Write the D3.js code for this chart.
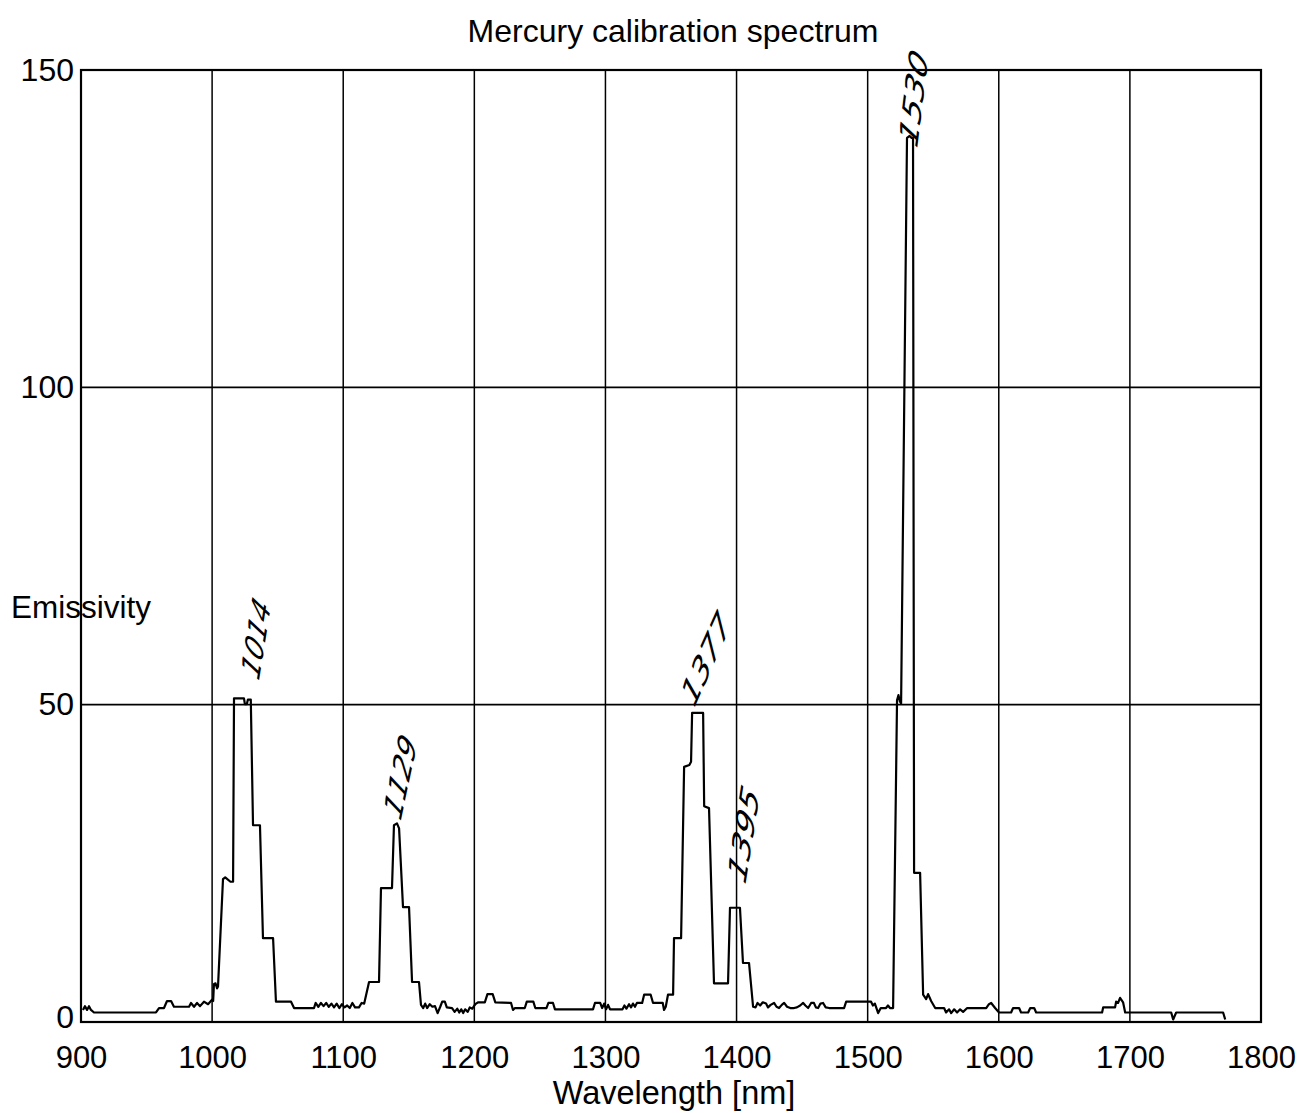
<!DOCTYPE html>
<html>
<head>
<meta charset="utf-8">
<script src="https://cdn.jsdelivr.net/npm/d3@7"></script>
<style>
  body { margin: 0; background: #fff; }
  svg { display: block; }
</style>
</head>
<body>
<svg id="chart" width="1303" height="1113"></svg>
<script>
// Mercury lamp spectrum, wavelength in nm and emissivity (relative units)
const wavelength = [
  901.5, 903, 904.6, 906.1, 907.6, 909.9, 957.2, 959.5, 963.3, 965.6, 968.7, 970.9,
  982.4, 983.9, 986.2, 988.5, 990.8, 993.8, 996.9, 999.9, 1000.8, 1001.4, 1002.6, 1003.8,
  1004.5, 1008.3, 1010, 1014, 1016, 1016.7, 1024.3, 1025, 1026.5, 1027.3, 1029.5, 1031.2,
  1036.5, 1038.8, 1046.5, 1048.7, 1060.2, 1062.5, 1077.7, 1079, 1081, 1083, 1085, 1087,
  1089, 1091, 1093, 1095, 1097, 1099, 1101, 1103, 1105, 1107, 1109, 1112, 1114, 1116,
  1119.7, 1127.3, 1128.8, 1137.2, 1138.7, 1141, 1142.6, 1145.6, 1150.2, 1152.5, 1157.8, 1159.3,
  1161, 1162.5, 1164, 1166, 1168, 1170, 1172, 1174, 1175.5, 1177.5, 1179, 1183,
  1185, 1187, 1188.5, 1190, 1191.5, 1193, 1195, 1196.5, 1198.5, 1200, 1201.3, 1203,
  1208, 1210, 1214, 1216, 1228, 1229.5, 1231, 1238.5, 1240, 1245, 1246.5, 1255,
  1256.5, 1260, 1261.5, 1290.5, 1292, 1296, 1297.5, 1299, 1300.5, 1302, 1303.5, 1313,
  1314.5, 1316, 1318, 1319.5, 1321, 1322.5, 1324, 1328, 1329.5, 1334.5, 1336.3, 1343.7,
  1344.7, 1346, 1347.7, 1351.6, 1352.3, 1357.7, 1360, 1364, 1365.3, 1366.1, 1374.5, 1375.3,
  1379, 1382.8, 1393.5, 1395, 1402.6, 1404.9, 1409.5, 1412.6, 1414.5, 1416, 1418, 1420,
  1422.5, 1424, 1426, 1428.6, 1430.5, 1432.4, 1434.5, 1436.3, 1438.5, 1441, 1443.9, 1446,
  1448.5, 1450.8, 1452.5, 1454.6, 1456.9, 1459, 1460.5, 1462.2, 1464, 1466, 1468, 1470.6,
  1482, 1483.6, 1502.6, 1504, 1505.5, 1508, 1510, 1514, 1515.5, 1517, 1519.4, 1522.4,
  1523.5, 1524.6, 1525.5, 1530, 1532, 1533.5, 1534.6, 1535.4, 1540, 1542.3, 1544.6, 1546.1,
  1548.4, 1551.5, 1558.3, 1559.8, 1562.1, 1563.7, 1566, 1568.2, 1570.5, 1572.8, 1575.9, 1590.4,
  1592.5, 1594.2, 1597.2, 1600.2, 1609.4, 1610.9, 1615.5, 1617, 1622.4, 1624, 1627, 1628.5,
  1678.8, 1679.6, 1688.7, 1689.5, 1691, 1692.5, 1694.8, 1696.4, 1731.5, 1733, 1735.3, 1771.1,
  1772.7
];
const emissivity = [
  1.9, 2.5, 1.9, 2.5, 1.9, 1.5, 1.5, 2.2, 2.2, 3.3, 3.3, 2.4,
  2.4, 3.0, 2.4, 3.0, 2.5, 3.2, 2.8, 3.5, 3.3, 6.0, 6.1, 5.3,
  5.6, 22.5, 22.8, 22.1, 22.1, 51.0, 51.0, 50.1, 50.1, 50.8, 50.8, 31.0,
  31.0, 13.2, 13.2, 3.2, 3.2, 2.2, 2.2, 3.0, 2.4, 3.0, 2.5, 3.0,
  2.4, 2.9, 2.3, 2.9, 2.2, 2.8, 2.3, 2.6, 2.2, 3.0, 2.3, 2.3, 3.0, 2.9,
  6.3, 6.3, 21.1, 21.1, 31.0, 31.3, 30.5, 18.1, 18.1, 6.3, 6.3, 2.7,
  2.2, 2.9, 2.2, 2.8, 2.4, 2.5, 1.4, 2.4, 3.2, 3.2, 2.3, 2.2,
  1.6, 2.1, 1.5, 2.0, 1.4, 2.0, 1.6, 2.3, 2.1, 2.6, 2.9, 3.1,
  3.1, 4.4, 4.4, 3.1, 3.0, 1.9, 2.2, 2.2, 3.2, 3.2, 2.2, 2.2,
  3.0, 3.0, 2.0, 2.0, 3.0, 3.0, 2.2, 2.9, 2.0, 2.7, 2.0, 2.0,
  2.6, 2.1, 2.8, 2.3, 2.9, 2.4, 3.0, 3.0, 4.3, 4.3, 3.0, 3.0,
  1.9, 2.4, 4.3, 4.3, 13.2, 13.2, 40.2, 40.5, 41.0, 48.7, 48.7, 34.0,
  33.7, 6.1, 6.1, 18.0, 18.0, 9.3, 9.3, 2.4, 2.3, 3.0, 2.6, 3.1,
  2.9, 2.3, 2.7, 3.0, 2.4, 2.2, 2.7, 3.0, 2.4, 2.2, 2.2, 2.3,
  2.6, 3.0, 2.6, 2.2, 3.0, 3.0, 2.3, 2.2, 2.9, 3.0, 2.3, 2.2,
  2.2, 3.2, 3.2, 2.6, 2.9, 1.4, 2.2, 2.2, 2.6, 2.2, 2.2, 50.7,
  51.5, 50.5, 50.2, 139.3, 139.6, 139.3, 139.3, 23.5, 23.5, 4.3, 3.6, 4.4,
  3.3, 2.2, 2.2, 1.5, 2.0, 1.4, 2.0, 1.5, 2.0, 1.6, 2.2, 2.2,
  2.8, 3.0, 2.2, 1.5, 1.5, 2.2, 2.2, 1.5, 1.5, 2.2, 2.2, 1.5,
  1.5, 2.3, 2.3, 3.2, 3.0, 3.8, 3.1, 1.5, 1.5, 0.4, 1.5, 1.5,
  0.4
];

const xTicks = [900, 1000, 1100, 1200, 1300, 1400, 1500, 1600, 1700, 1800];
const yTicks = [0, 50, 100, 150];
const gridValues = [50, 100];

// Hand-written line identifications next to the peaks
const noteTexts = ["1014", "1129", "1377", "1395", "1530"];
const noteWavelengths = [1014, 1129, 1377, 1395, 1530];

const titleText = "Mercury calibration spectrum";
const xLabel = "Wavelength [nm]";
const yLabel = "Emissivity";

// ---- layout ----
const plot = { left: 81, right: 1261, top: 70, bottom: 1022 };
const FONT = "'Liberation Sans', Arial, sans-serif";

const svg = d3.select("#chart");
svg.append("rect").attr("width", 1303).attr("height", 1113).attr("fill", "#fff");

const x = d3.scaleLinear().domain([900, 1800]).range([plot.left, plot.right]);
const y = d3.scaleLinear().domain([0, 150]).range([plot.bottom, plot.top]);

// vertical grid lines every 100 nm
svg.append("g")
  .selectAll("line")
  .data(xTicks.slice(1, -1))
  .join("line")
  .attr("x1", d => x(d)).attr("x2", d => x(d))
  .attr("y1", plot.top).attr("y2", plot.bottom)
  .attr("stroke", "#000").attr("stroke-width", 1.5);

// horizontal grid lines
svg.append("g")
  .selectAll("line")
  .data(gridValues)
  .join("line")
  .attr("x1", plot.left).attr("x2", plot.right)
  .attr("y1", d => y(d)).attr("y2", d => y(d))
  .attr("stroke", "#000").attr("stroke-width", 1.9);

// plot frame
svg.append("rect")
  .attr("x", plot.left).attr("y", plot.top)
  .attr("width", plot.right - plot.left).attr("height", plot.bottom - plot.top)
  .attr("fill", "none").attr("stroke", "#000").attr("stroke-width", 2.2);

// axes (labels only, the frame carries the lines)
const xAxis = svg.append("g")
  .attr("transform", `translate(0,${plot.bottom})`)
  .call(d3.axisBottom(x).tickValues(xTicks).tickSize(0).tickPadding(24).tickFormat(d3.format("d")));
xAxis.select(".domain").remove();
xAxis.selectAll("text")
  .attr("font-family", FONT).attr("font-size", 31).attr("fill", "#000")
  .attr("dy", "0.71em");

const yAxis = svg.append("g")
  .attr("transform", `translate(${plot.left},0)`)
  .call(d3.axisLeft(y).tickValues(yTicks).tickSize(0).tickPadding(7).tickFormat(d3.format("d")));
yAxis.select(".domain").remove();
yAxis.selectAll("text")
  .attr("font-family", FONT).attr("font-size", 32).attr("fill", "#000")
  .attr("dy", d => d === 0 ? "0.18em" : "0.32em");

// spectrum trace
const points = wavelength.map((w, i) => [w, emissivity[i]]);
const line = d3.line().x(d => x(d[0])).y(d => y(d[1])).curve(d3.curveLinear);
svg.append("path")
  .datum(points)
  .attr("d", line)
  .attr("fill", "none")
  .attr("stroke", "#000")
  .attr("stroke-width", 2.2)
  .attr("stroke-linejoin", "round");

// titles
svg.append("text")
  .attr("x", 673).attr("y", 42)
  .attr("text-anchor", "middle")
  .attr("font-family", FONT).attr("font-size", 32)
  .text(titleText);

svg.append("text")
  .attr("x", 674).attr("y", 1104)
  .attr("text-anchor", "middle")
  .attr("font-family", FONT).attr("font-size", 32.5)
  .text(xLabel);

svg.append("text")
  .attr("x", 11).attr("y", 618)
  .attr("font-family", FONT).attr("font-size", 31.5)
  .text(yLabel);

// pen notes: anchor given in data units (wavelength offset, emissivity), angle and length
const notePlacement = [
  { dx: 14, at: 53.6, angle: -81, len: 76 },
  { dx: 7,  at: 31.5, angle: -78, len: 80 },
  { dx: -17, at: 49.4, angle: -66, len: 92 },
  { dx: 4,  at: 21.5, angle: -81, len: 92 },
  { dx: 0,  at: 137.5, angle: -83, len: 92 }
];

const notes = svg.append("g");
noteTexts.forEach((t, i) => {
  const p = notePlacement[i];
  const px = x(noteWavelengths[i] + p.dx) + 10;
  const py = y(p.at);
  notes.append("text")
    .attr("transform", `translate(${px},${py}) rotate(${p.angle}) skewX(-25)`)
    .attr("font-family", "'DejaVu Sans', sans-serif")
    .attr("font-style", "italic")
    .attr("font-weight", 300)
    .attr("font-size", 27)
    .attr("textLength", p.len)
    .attr("lengthAdjust", "spacingAndGlyphs")
    .attr("fill", "#000")
    .text(t);
});
</script>
</body>
</html>
